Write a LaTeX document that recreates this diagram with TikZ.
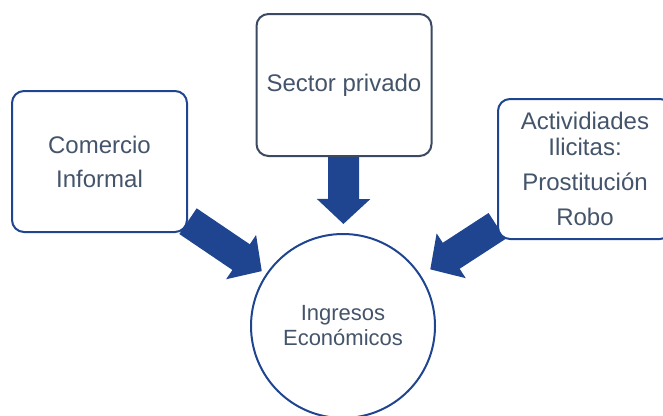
\documentclass[tikz,border=0pt]{standalone}
\usepackage{fontspec}
\setmainfont{Liberation Sans}
\usetikzlibrary{arrows.meta,backgrounds}
\definecolor{boxblue}{HTML}{1F4591}
\definecolor{boxslate}{HTML}{3B4A62}
\definecolor{txtgray}{HTML}{44546A}
\tikzset{box/.style = {draw=boxblue,line width=2pt,rounded corners=12pt,fill=white,
    minimum width=175pt,minimum height=141pt,align=center,text=txtgray,inner sep=0pt}}
\tikzset{bigarrow/.style = {draw=boxblue,line width=31pt,-{Triangle[length=25pt,width=52pt]}}}
\begin{document}
\begin{tikzpicture}[x=1pt,y=-1pt]
\useasboundingbox (0,0) rectangle (663,415);
% vertices
\node[box,font=\fontsize{24}{34}\selectfont] (informal) at (99.5,161.5) {Comercio\\Informal};
\node[box,draw=boxslate,minimum height=142pt,font=\fontsize{24}{28}\selectfont] (privado) at (344,85) {Sector privado};
\node[box,minimum width=174pt,minimum height=140pt,font=\fontsize{24}{26}\selectfont] (ilicitas) at (585,169) {Actividiades\\Ilicitas:\\[9pt]Prostitución\\[9pt]Robo};
\node[circle,draw=boxblue,line width=2pt,fill=white,minimum size=184pt,inner sep=0pt,
    align=center,text=txtgray,font=\fontsize{22}{25}\selectfont] (ingresos) at (343,326) {Ingresos\\Económicos};
%edges
\begin{pgfonlayer}{background}
\draw[bigarrow,shorten >=5pt] (informal) -- (ingresos);
\draw[bigarrow,shorten >=9pt] (privado) -- (ingresos);
\draw[bigarrow,shorten >=11pt] (ilicitas) -- (ingresos);
\end{pgfonlayer}
\end{tikzpicture}
\end{document}
